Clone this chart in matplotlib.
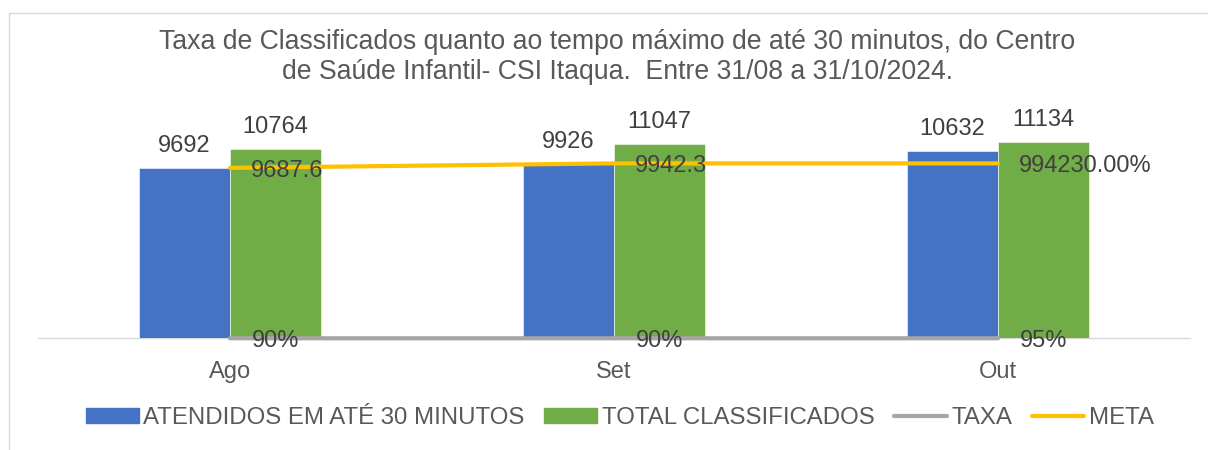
import matplotlib
matplotlib.use("Agg")
import matplotlib.pyplot as plt
import numpy as np
from matplotlib.patches import Rectangle, Patch
from matplotlib.lines import Line2D

plt.rcParams['font.family'] = ['Liberation Sans', 'DejaVu Sans']

# data
meses = ["Ago", "Set", "Out"]
atendidos = [9692, 9926, 10632]
total_classificados = [10764, 11047, 11134]
taxa = [0.90, 0.90, 0.95]
meta = [9687.6, 9942.3, 9942.3]
meta_labels = ["9687.6", "9942.3", "994230.00%"]

AZUL = "#4472C4"
VERDE = "#70AD47"
CINZA = "#A5A5A5"
AMARELO = "#FFC000"
TXT = "#595959"
LBL = "#404040"

W, H = 1208, 450
fig = plt.figure(figsize=(W / 100, H / 100), dpi=100)

# light frame around the chart area, like the Excel export
fig.patches.append(Rectangle((8.5 / W, -0.1), 1.2, 1 - 12.5 / H + 0.1,
                             transform=fig.transFigure, fill=False,
                             edgecolor="#d9d9d9", lw=1.0))

ax = fig.add_axes([38 / W, 111.7 / H, 1152 / W, 246.3 / H])
x = np.arange(len(meses))
bw = 0.237

ax.bar(x - bw / 2, atendidos, bw, color=AZUL, edgecolor="white", lw=0.4, zorder=2)
ax.bar(x + bw / 2, total_classificados, bw, color=VERDE, edgecolor="white", lw=0.4, zorder=2)
ax.plot(x, taxa, color=CINZA, lw=3.0, solid_capstyle="round", zorder=3, clip_on=False)
ax.plot(x, meta, color=AMARELO, lw=3.0, solid_capstyle="round", zorder=3)

ax.set_xlim(-0.5, len(meses) - 0.5)
ax.set_ylim(0, 14000)
for s in ["top", "right", "left"]:
    ax.spines[s].set_visible(False)
ax.spines["bottom"].set_color("#d9d9d9")
ax.spines["bottom"].set_linewidth(1.0)
ax.spines["bottom"].set_zorder(1)
ax.set_yticks([])
ax.set_xticks(x)
ax.set_xticklabels(meses, fontsize=17, color=TXT)
ax.tick_params(axis="x", length=0, pad=16)

# data labels
for i in range(len(meses)):
    ax.annotate(str(atendidos[i]), (x[i] - bw / 2, atendidos[i]), xytext=(0, 8),
                textcoords="offset points", ha="center", va="bottom",
                fontsize=17, color=LBL, zorder=5)
    ax.annotate(str(total_classificados[i]), (x[i] + bw / 2, total_classificados[i]),
                xytext=(0, 8), textcoords="offset points", ha="center", va="bottom",
                fontsize=17, color=LBL, zorder=5)
    ax.annotate(meta_labels[i], (x[i], meta[i]), xytext=(15, -2),
                textcoords="offset points", ha="left", va="center",
                fontsize=17, color=LBL, zorder=5)
    ax.annotate(f"{taxa[i]:.0%}", (x[i], taxa[i]), xytext=(16, -2),
                textcoords="offset points", ha="left", va="center",
                fontsize=17, color=LBL, zorder=5, annotation_clip=False)

fig.text(617 / W, 1 - 57 / H,
         "Taxa de Classificados quanto ao tempo máximo de até 30 minutos, do Centro\n"
         "de Saúde Infantil- CSI Itaqua.  Entre 31/08 a 31/10/2024.",
         ha="center", va="center", fontsize=19.2, color=TXT, linespacing=1.2)

handles = [Patch(color=AZUL), Patch(color=VERDE),
           Line2D([], [], color=CINZA, lw=3.0, solid_capstyle="round"),
           Line2D([], [], color=AMARELO, lw=3.0, solid_capstyle="round")]
names = ["ATENDIDOS EM ATÉ 30 MINUTOS", "TOTAL CLASSIFICADOS", "TAXA", "META"]
fig.legend(handles, names, loc="center", bbox_to_anchor=(620 / W, 1 - 418 / H),
           ncol=4, frameon=False, fontsize=17.3, labelcolor=TXT,
           handlelength=2.2, handleheight=0.55, handletextpad=0.2,
           columnspacing=0.8, borderaxespad=0)

fig.savefig("out.png", dpi=100)
